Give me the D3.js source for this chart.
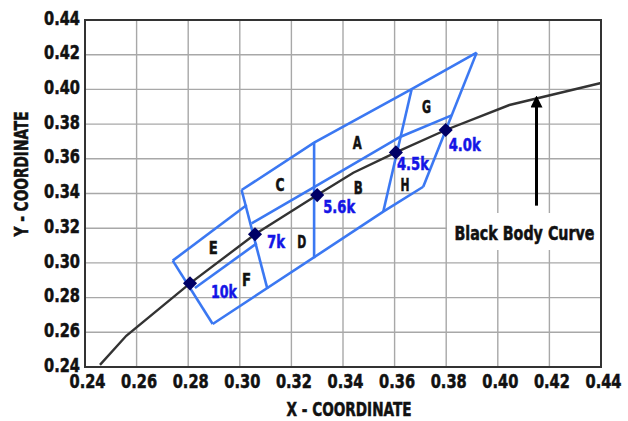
<!DOCTYPE html>
<html>
<head>
<meta charset="utf-8">
<script src="https://cdn.jsdelivr.net/npm/d3@7"></script>
<style>
  body { margin: 0; background: #fff; }
  svg text { font-family: "Liberation Sans Narrow", "Arial Narrow", "DejaVu Sans Condensed", sans-serif; font-weight: bold; stroke-width: 0.5px; }
</style>
</head>
<body>
<div id="chart"></div>
<script>
// tick values for both axes
const xTicks = [0.24, 0.26, 0.28, 0.30, 0.32, 0.34, 0.36, 0.38, 0.40, 0.42, 0.44];
const yTicks = [0.24, 0.26, 0.28, 0.30, 0.32, 0.34, 0.36, 0.38, 0.40, 0.42, 0.44];

// black body (planckian) curve
const curveX = [0.2458, 0.2560, 0.2807, 0.3059, 0.3300, 0.3440, 0.3605, 0.3798, 0.4045, 0.4400];
const curveY = [0.2412, 0.2580, 0.2882, 0.3165, 0.3391, 0.3520, 0.3637, 0.3766, 0.3910, 0.4037];

// CCT points on the curve
const cctNames = ["10k", "7k", "5.6k", "4.5k", "4.0k"];
const cctX = [0.2807, 0.3059, 0.3300, 0.3605, 0.3798];
const cctY = [0.2882, 0.3165, 0.3391, 0.3637, 0.3766];

// bin boundary lines
const upperEdge   = [[0.3007, 0.3420], [0.3288, 0.3693], [0.3666, 0.4001], [0.3918, 0.4212]];
const lowerEdge   = [[0.2895, 0.2648], [0.3556, 0.3295], [0.3711, 0.3439]];
const innerUpper  = [[0.3046, 0.3228], [0.3288, 0.3437], [0.3621, 0.3726], [0.3821, 0.3850]];
const eTop        = [[0.2740, 0.3013], [0.3027, 0.3334]];
const fTop        = [[0.2826, 0.2855], [0.3066, 0.3113]];
const iso10k      = [[0.2740, 0.3013], [0.2895, 0.2648]];
const iso7k       = [[0.3007, 0.3420], [0.3107, 0.2850]];
const iso56k      = [[0.3288, 0.3693], [0.3288, 0.3027]];
const iso45k      = [[0.3666, 0.4001], [0.3556, 0.3295]];
const iso40k      = [[0.3918, 0.4212], [0.3711, 0.3439]];
const binLines = [upperEdge, lowerEdge, innerUpper, eTop, fTop, iso10k, iso7k, iso56k, iso45k, iso40k];

// bin letters
const binNames = ["A", "B", "C", "D", "E", "F", "G", "H"];
const binX = [0.3455, 0.3459, 0.3156, 0.3240, 0.2897, 0.3026, 0.3724, 0.3640];
const binY = [0.3689, 0.3430, 0.3449, 0.3122, 0.3084, 0.2901, 0.3900, 0.3449];

// arrow pointing at the curve
const arrowX = 0.4150, arrowFrom = 0.3330, arrowTo = 0.3968;

const width = 628, height = 421;
const margin = {top: 20, right: 27, bottom: 54, left: 85};

// squeeze a text into a given width (no narrow font installed)
function fit(sel, w) {
    sel.attr("textLength", w).attr("lengthAdjust", "spacingAndGlyphs");
}

const svg = d3.select("#chart").append("svg")
    .attr("width", width)
    .attr("height", height);

const x = d3.scaleLinear().domain([0.24, 0.44]).range([margin.left, width - margin.right]);
const y = d3.scaleLinear().domain([0.24, 0.44]).range([height - margin.bottom, margin.top]);

// grid
svg.append("g").selectAll("line").data(xTicks).enter().append("line")
    .attr("x1", d => x(d)).attr("x2", d => x(d))
    .attr("y1", y(0.44)).attr("y2", y(0.24))
    .attr("stroke", "#a8a8a8").attr("stroke-width", 1.4);
svg.append("g").selectAll("line").data(yTicks).enter().append("line")
    .attr("y1", d => y(d)).attr("y2", d => y(d))
    .attr("x1", x(0.24)).attr("x2", x(0.44))
    .attr("stroke", "#a8a8a8").attr("stroke-width", 1.4);

// axes
const fmt = d3.format(".2f");
const xAxis = svg.append("g")
    .attr("transform", `translate(0,${y(0.24)})`)
    .call(d3.axisBottom(x).tickValues(xTicks).tickFormat(fmt).tickSize(0).tickPadding(8));
const yAxis = svg.append("g")
    .attr("transform", `translate(${x(0.24)},0)`)
    .call(d3.axisLeft(y).tickValues(yTicks).tickFormat(fmt).tickSize(0).tickPadding(5));
[xAxis, yAxis].forEach(a => {
    a.select(".domain").remove();
    a.selectAll("text").style("font-size", "19px").attr("fill", "#111").attr("stroke", "#111").call(fit, 36);
});
xAxis.selectAll("text").attr("x", 2);
yAxis.selectAll("text").attr("dy", "0.22em");

// axis titles
svg.append("text")
    .attr("x", 349).attr("y", 416)
    .style("text-anchor", "middle").style("font-size", "19px").attr("fill", "#111").attr("stroke", "#111")
    .text("X - COORDINATE").call(fit, 125);
svg.append("text")
    .attr("transform", "translate(28,174) rotate(-90)")
    .style("text-anchor", "middle").style("font-size", "19px").attr("fill", "#111").attr("stroke", "#111")
    .text("Y - COORDINATE").call(fit, 125);

// bins
const line = d3.line().x(d => x(d[0])).y(d => y(d[1]));
svg.append("g").selectAll("path").data(binLines).enter().append("path")
    .attr("d", line)
    .attr("fill", "none")
    .attr("stroke", "#3b78f2")
    .attr("stroke-width", 2.6)
    .attr("stroke-linejoin", "miter");

// black body curve
const curve = curveX.map((d, i) => [d, curveY[i]]);
svg.append("path")
    .attr("d", line(curve))
    .attr("fill", "none")
    .attr("stroke", "#333")
    .attr("stroke-width", 2.4);

// diamonds
svg.append("g").selectAll("path").data(cctX).enter().append("path")
    .attr("d", d3.symbol().type(d3.symbolSquare).size(100))
    .attr("transform", (d, i) => `translate(${x(d)},${y(cctY[i])}) rotate(45)`)
    .attr("fill", "#000066");

// cct labels
const cctDx = [21, 12, 6, 1, 3];
const cctDy = [15, 14, 18, 18, 21];
const cctW = [26, 18, 32, 32, 32];
svg.append("g").selectAll("text").data(cctNames).enter().append("text")
    .attr("x", (d, i) => x(cctX[i]) + cctDx[i])
    .attr("y", (d, i) => y(cctY[i]) + cctDy[i])
    .style("font-size", "18px")
    .attr("fill", "#1414e6").attr("stroke", "#1414e6")
    .text(d => d)
    .each(function(d, i) { d3.select(this).call(fit, cctW[i]); });

// bin letters
svg.append("g").selectAll("text").data(binNames).enter().append("text")
    .attr("x", (d, i) => x(binX[i]))
    .attr("y", (d, i) => y(binY[i]))
    .attr("dy", "0.35em")
    .style("text-anchor", "middle")
    .style("font-size", "17px")
    .attr("fill", "#111").attr("stroke", "#111")
    .text(d => d)
    .call(fit, 9);

// arrow + label
svg.append("defs").append("marker")
    .attr("id", "head")
    .attr("viewBox", "0 0 10 10")
    .attr("refX", 8).attr("refY", 5)
    .attr("markerWidth", 4).attr("markerHeight", 4)
    .attr("markerUnits", "strokeWidth")
    .attr("orient", "auto")
  .append("path")
    .attr("d", "M0,0 L10,5 L0,10 z")
    .attr("fill", "#000");
svg.append("line")
    .attr("x1", x(arrowX)).attr("x2", x(arrowX))
    .attr("y1", y(arrowFrom)).attr("y2", y(arrowTo) + 3)
    .attr("stroke", "#000").attr("stroke-width", 3)
    .attr("marker-end", "url(#head)");

svg.append("rect")
    .attr("x", 447).attr("y", 213)
    .attr("width", 153).attr("height", 37)
    .attr("fill", "#fff");
svg.append("text")
    .attr("x", x(arrowX) - 12).attr("y", y(arrowFrom) + 34)
    .style("text-anchor", "middle").style("font-size", "19px").attr("fill", "#111").attr("stroke", "#111")
    .text("Black Body Curve").call(fit, 140);

// frame
svg.append("rect")
    .attr("x", x(0.24)).attr("y", y(0.44))
    .attr("width", x(0.44) - x(0.24)).attr("height", y(0.24) - y(0.44))
    .attr("fill", "none").attr("stroke", "#333").attr("stroke-width", 2);
</script>
</body>
</html>
